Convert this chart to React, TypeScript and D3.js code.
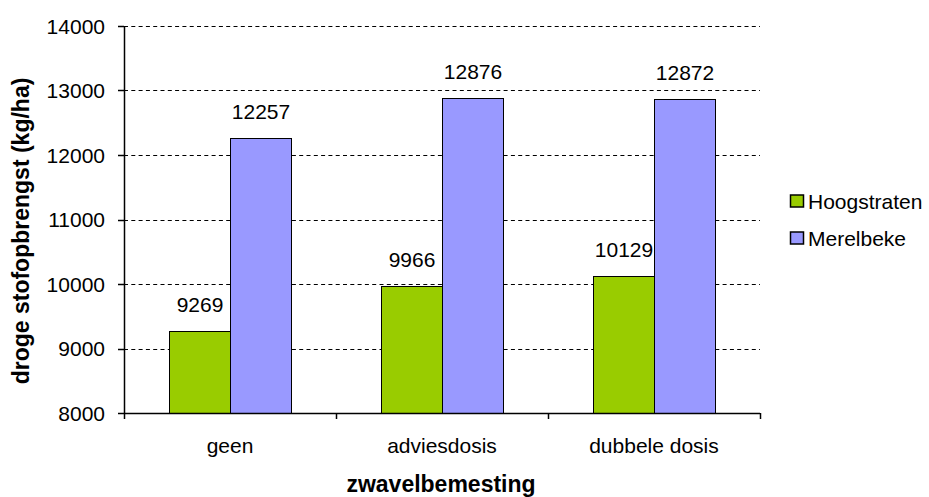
import React from "react";
import * as d3 from "d3";

const categories = ["geen", "adviesdosis", "dubbele dosis"];
const seriesNames = ["Hoogstraten", "Merelbeke"];
const hoogstraten = [9269, 9966, 10129];
const merelbeke = [12257, 12876, 12872];
const yTicks = [8000, 9000, 10000, 11000, 12000, 13000, 14000];
const colors = ["#99CC00", "#9999FF"];
const xTitle = "zwavelbemesting";
const yTitle = "droge stofopbrengst (kg/ha)";

const W = 929;
const H = 497;
const left = 124;
const right = 760;
const top = 26;
const bottom = 413;
const FONT = "'Liberation Sans', Arial, sans-serif";

export default function App() {
  const values = [hoogstraten, merelbeke];
  const y = d3.scaleLinear().domain([8000, 14000]).range([bottom, top]);
  const x0 = d3.scaleBand<string>().domain(categories).range([left, right]).padding(0);
  const x1 = d3
    .scaleBand<string>()
    .domain(seriesNames)
    .range([0, x0.bandwidth()])
    .paddingInner(0)
    .paddingOuter(0.74);

  const boundaries = [...categories.map((c) => x0(c)!), right];

  return (
    <svg
      width={W}
      height={H}
      style={{ position: "absolute", left: 0, top: 0, background: "#fff" }}
      fontFamily={FONT}
    >
      <rect x={0} y={0} width={W} height={H} fill="#fff" />
      {/* gridlines */}
      {yTicks
        .filter((t) => t !== 8000)
        .map((t) => (
          <line
            key={"g" + t}
            x1={left}
            x2={right}
            y1={Math.round(y(t)) + 0.5}
            y2={Math.round(y(t)) + 0.5}
            stroke="#000"
            strokeWidth={1.2}
            strokeDasharray="4,3.3"
          />
        ))}
      {/* bars */}
      {categories.map((c, ci) =>
        seriesNames.map((s, si) => {
          const bx = Math.round(x0(c)! + x1(s)!) + 0.5;
          const bw = Math.round(x1.bandwidth());
          const by = Math.round(y(values[si][ci])) + 0.5;
          return (
            <g key={c + s}>
              <rect
                x={bx}
                y={by}
                width={bw}
                height={bottom + 0.5 - by}
                fill={colors[si]}
                stroke="#000"
                strokeWidth={1}
              />
              <text
                x={bx + bw / 2}
                y={by - 20}
                textAnchor="middle"
                fontSize={21}
                fill="#000"
              >
                {values[si][ci]}
              </text>
            </g>
          );
        })
      )}
      {/* y axis */}
      <line x1={left + 0.5} x2={left + 0.5} y1={top} y2={bottom + 1} stroke="#000" strokeWidth={1.5} />
      {yTicks.map((t) => (
        <g key={"t" + t}>
          <line
            x1={left - 6}
            x2={left}
            y1={Math.round(y(t)) + 0.5}
            y2={Math.round(y(t)) + 0.5}
            stroke="#000"
            strokeWidth={1.5}
          />
          <text x={105} y={y(t)} dy="0.36em" textAnchor="end" fontSize={21} fill="#000">
            {t}
          </text>
        </g>
      ))}
      {/* x axis */}
      <line x1={left} x2={right} y1={bottom + 0.5} y2={bottom + 0.5} stroke="#000" strokeWidth={1.5} />
      {boundaries.map((bx, i) => (
        <line
          key={"xt" + i}
          x1={Math.round(bx) + 0.5}
          x2={Math.round(bx) + 0.5}
          y1={bottom}
          y2={bottom + 6}
          stroke="#000"
          strokeWidth={1.5}
        />
      ))}
      {categories.map((c) => (
        <text
          key={"c" + c}
          x={x0(c)! + x0.bandwidth() / 2}
          y={445}
          dy="0.36em"
          textAnchor="middle"
          fontSize={21}
          fill="#000"
        >
          {c}
        </text>
      ))}
      {/* titles */}
      <text
        x={441}
        y={492}
        textAnchor="middle"
        fontSize={23}
        fontWeight="bold"
        fill="#000"
      >
        {xTitle}
      </text>
      <text
        transform={`translate(29,231) rotate(-90)`}
        textAnchor="middle"
        fontSize={23}
        fontWeight="bold"
        fill="#000"
      >
        {yTitle}
      </text>
      {/* legend */}
      {seriesNames.map((s, i) => {
        const cy = 201 + i * 37;
        return (
          <g key={"l" + s}>
            <rect x={790.5} y={cy - 6} width={13} height={12} fill={colors[i]} stroke="#000" strokeWidth={1.5} />
            <text x={808} y={cy} dy="0.36em" fontSize={21} fill="#000">
              {s}
            </text>
          </g>
        );
      })}
    </svg>
  );
}
